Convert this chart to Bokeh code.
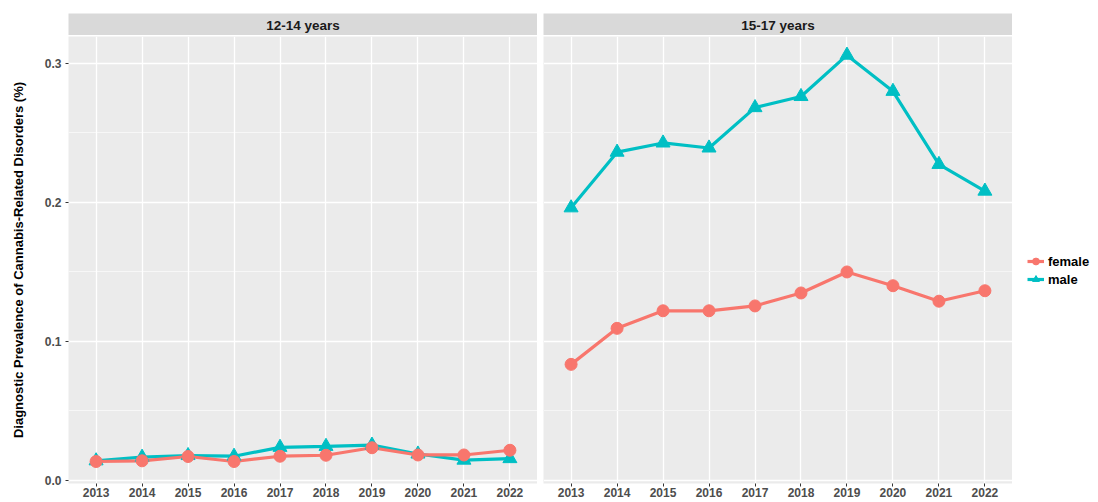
from bokeh.plotting import figure
from bokeh.layouts import row, column
from bokeh.models import Range1d, FixedTicker, NumeralTickFormatter, Legend, LegendItem, Grid
from bokeh.embed import file_html
from bokeh.resources import INLINE
from bokeh.core.properties import value

# ---------------- data ----------------
years = [2013, 2014, 2015, 2016, 2017, 2018, 2019, 2020, 2021, 2022]
groups = ["12-14 years", "15-17 years"]
series = ["female", "male"]

female_12_14 = [0.0137, 0.0142, 0.0173, 0.0137, 0.0175, 0.0182, 0.0236, 0.0184, 0.0184, 0.0218]
male_12_14 = [0.0142, 0.0168, 0.0180, 0.0175, 0.0239, 0.0246, 0.0255, 0.0191, 0.0147, 0.0158]
female_15_17 = [0.0835, 0.1094, 0.1220, 0.1220, 0.1255, 0.1348, 0.1499, 0.1400, 0.1289, 0.1364]
male_15_17 = [0.1960, 0.2360, 0.2426, 0.2390, 0.2680, 0.2760, 0.3057, 0.2797, 0.2272, 0.2080]

y_ticks = [0.0, 0.1, 0.2, 0.3]
y_minor = [0.05, 0.15, 0.25]
y_label = "Diagnostic Prevalence of Cannabis-Related Disorders (%)"

# ---------------- style ----------------
FONT = "Liberation Sans"
C_F = "#F8766D"
C_M = "#00BFC4"
FW = 469
FH = 447
LEFT_B = 68
GAP = 6
LEG_W = 84
BOT_B = 17
PANEL_H = 1 + FH + BOT_B


def make_strip(title, left_b):
    s = figure(width=left_b + FW, height=13 + 22,
               x_range=Range1d(0, 1), y_range=Range1d(0, 1),
               x_axis_location=None, y_axis_location=None,
               min_border_left=left_b, min_border_right=0,
               min_border_top=13, min_border_bottom=0,
               toolbar_location=None, output_backend="svg")
    s.background_fill_color = "#D9D9D9"
    s.border_fill_color = "white"
    s.outline_line_color = None
    for g in s.grid:
        g.visible = False
    s.text(x=[0.5], y=[0.45], text=[title], text_align="center", text_baseline="middle",
           text_font=value(FONT), text_font_style="bold", text_font_size="13.5px",
           text_color="#1A1A1A")
    return s


def draw_series(p, fem, mal):
    lm = p.line(years, mal, line_color=C_M, line_width=3.2)
    lf = p.line(years, fem, line_color=C_F, line_width=3.2)
    rm = p.scatter(years, mal, marker="triangle", size=14, fill_color=C_M, line_color=C_M)
    rf = p.scatter(years, fem, marker="circle", size=12, fill_color=C_F, line_color=C_F)
    return lf, lm, rf, rm


def make_panel(fem, mal, left):
    lb = LEFT_B if left else GAP
    p = figure(width=lb + FW, height=PANEL_H,
               x_range=Range1d(2012.4, 2022.6), y_range=Range1d(-0.0021, 0.3191),
               y_axis_location="left" if left else None,
               min_border_left=lb, min_border_right=0,
               min_border_top=1, min_border_bottom=BOT_B,
               toolbar_location=None, output_backend="svg")
    p.background_fill_color = "#EBEBEB"
    p.border_fill_color = "white"
    p.outline_line_color = None

    p.xaxis.ticker = FixedTicker(ticks=years)
    p.xaxis.axis_line_color = None
    p.xaxis.major_tick_line_color = "#333333"
    p.xaxis.major_tick_out = 3
    p.xaxis.major_tick_in = 0
    p.xaxis.minor_tick_line_color = None
    p.xaxis.major_label_standoff = 1
    p.xaxis.major_label_text_font = FONT
    p.xaxis.major_label_text_font_size = "12px"
    p.xaxis.major_label_text_font_style = "bold"
    p.xaxis.major_label_text_color = "#4D4D4D"
    p.xgrid.ticker = FixedTicker(ticks=years)
    p.xgrid.grid_line_color = "white"
    p.xgrid.grid_line_width = 1.3

    yt = FixedTicker(ticks=y_ticks, minor_ticks=y_minor)
    if left:
        p.yaxis.ticker = yt
        p.yaxis.formatter = NumeralTickFormatter(format="0.0")
        p.yaxis.axis_line_color = None
        p.yaxis.major_tick_line_color = "#333333"
        p.yaxis.major_tick_out = 3
        p.yaxis.major_tick_in = 0
        p.yaxis.minor_tick_line_color = None
        p.yaxis.major_label_standoff = 3
        p.yaxis.major_label_text_font = FONT
        p.yaxis.major_label_text_font_size = "12px"
        p.yaxis.major_label_text_font_style = "bold"
        p.yaxis.major_label_text_color = "#4D4D4D"
        p.yaxis.axis_label = y_label
        p.yaxis.axis_label_text_font = FONT
        p.yaxis.axis_label_text_font_size = "13px"
        p.yaxis.axis_label_text_font_style = "bold"
        p.yaxis.axis_label_text_color = "black"
        p.yaxis.axis_label_standoff = 16
        p.ygrid.ticker = yt
        p.ygrid.grid_line_color = "white"
        p.ygrid.grid_line_width = 1.3
        p.ygrid.minor_grid_line_color = "white"
        p.ygrid.minor_grid_line_width = 0.6
    else:
        g = Grid(dimension=1, ticker=yt, grid_line_color="white", grid_line_width=1.3,
                 minor_grid_line_color="white", minor_grid_line_width=0.6)
        p.add_layout(g)

    draw_series(p, fem, mal)
    return p


s1 = make_strip(groups[0], LEFT_B)
s2 = make_strip(groups[1], GAP)
p1 = make_panel(female_12_14, male_12_14, True)
p2 = make_panel(female_15_17, male_15_17, False)

# legend figure: same series drawn with a y-range that keeps them out of view,
# so only the legend keys are visible
lg = figure(width=LEG_W, height=PANEL_H,
            x_range=Range1d(2012.4, 2022.6), y_range=Range1d(1.0, 2.0),
            x_axis_location=None, y_axis_location=None,
            min_border_left=0, min_border_right=0, min_border_top=0, min_border_bottom=0,
            toolbar_location=None, output_backend="svg")
lg.background_fill_color = "white"
lg.border_fill_color = "white"
lg.outline_line_color = None
for g in lg.grid:
    g.visible = False
lf, lm, rf, rm = draw_series(lg, female_15_17, male_15_17)

legend = Legend(items=[LegendItem(label=series[0], renderers=[lf, rf]),
                       LegendItem(label=series[1], renderers=[lm, rm])],
                location=(15, 195), orientation="vertical",
                label_text_font=FONT, label_text_font_size="13px",
                label_text_font_style="bold", label_text_color="black",
                glyph_width=17, glyph_height=18, spacing=0, padding=0, margin=0,
                label_standoff=4, background_fill_color="white",
                border_line_color=None)
lg.add_layout(legend, "center")

layout = column(row(s1, s2), row(p1, p2, lg))

open("out.html", "w").write(file_html(layout, INLINE))
